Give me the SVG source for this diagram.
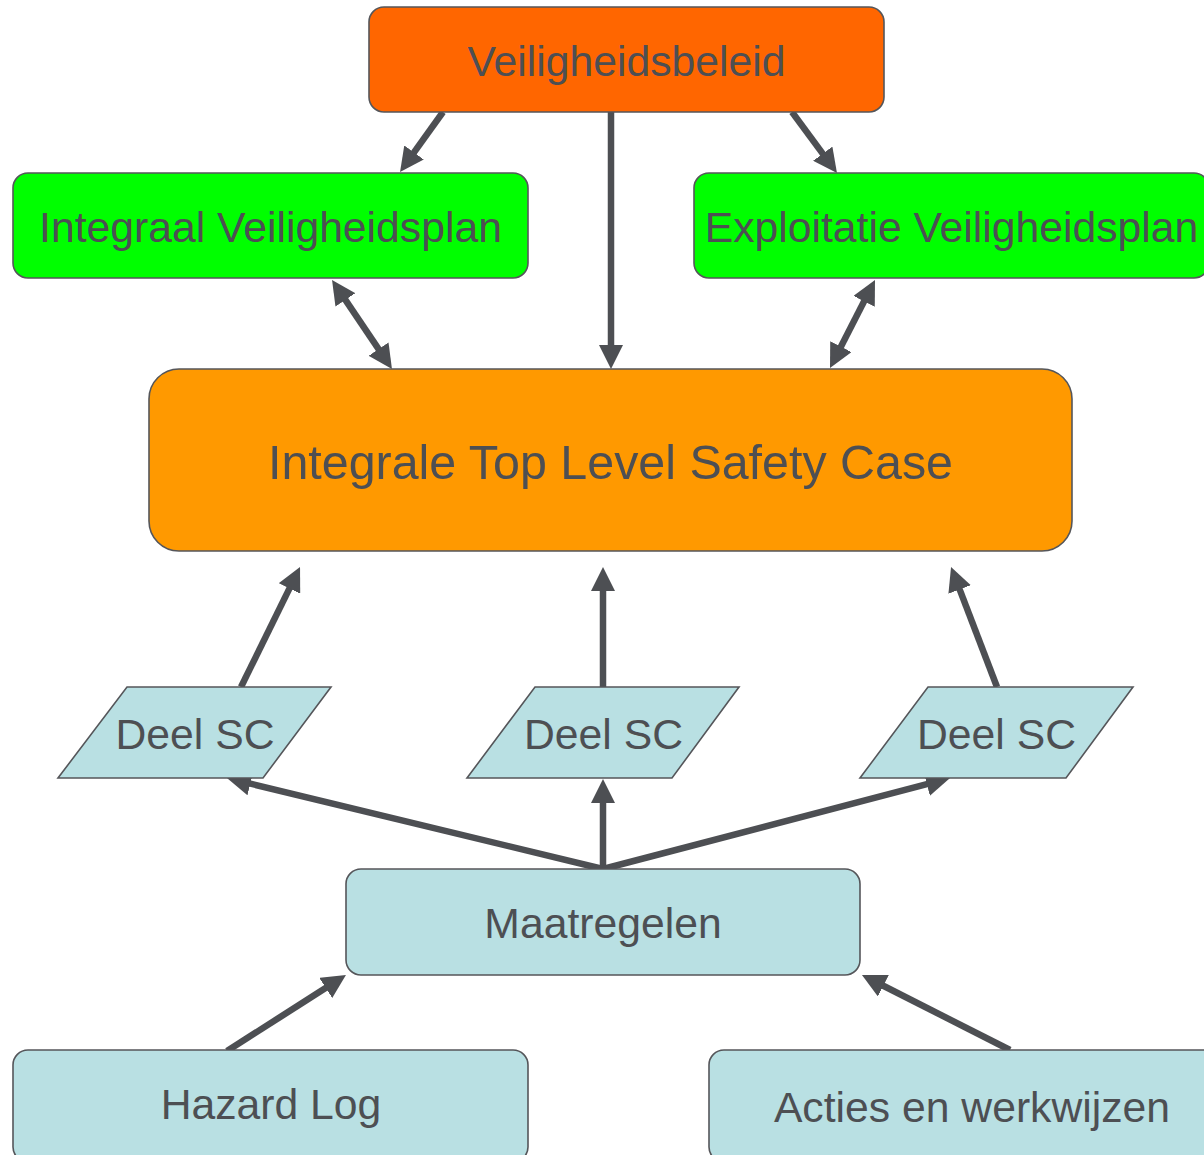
<svg xmlns="http://www.w3.org/2000/svg" width="1204" height="1155" viewBox="0 0 1204 1155">
<defs>
<style>
.box{stroke:#55565a;stroke-width:1.6}
.t{font-family:"Liberation Sans",Arial,sans-serif;font-size:42.7px;fill:#4d4f53;text-anchor:middle}
.big{font-size:48.4px}
.c{stroke:#4d4f53;stroke-width:6.5;fill:none;marker-end:url(#ah)}
.d{marker-start:url(#ah)}
.orange{fill:#ff6600}
.green{fill:#00ff00}
.amber{fill:#ff9900}
.blue{fill:#b9e0e3}
</style>
<marker id="ah" markerUnits="userSpaceOnUse" markerWidth="24" markerHeight="24" refX="4" refY="12" orient="auto-start-reverse" viewBox="0 0 24 24">
<path d="M0,0 L24,12 L0,24 Z" fill="#4d4f53"/>
</marker>
</defs>
<rect width="1204" height="1155" fill="#ffffff"/>
<g id="connectors">
<line class="c" x1="443" y1="112" x2="411.7" y2="155.7"/>
<line class="c" x1="611" y1="112" x2="611" y2="349"/>
<line class="c" x1="792" y1="112" x2="825.1" y2="156.9"/>
<line class="c d" x1="343.2" y1="296.6" x2="380.8" y2="352.4"/>
<line class="c d" x1="865.9" y1="297.8" x2="839.1" y2="350.2"/>
<line class="c" x1="241" y1="687" x2="291.2" y2="584.9"/>
<line class="c" x1="603" y1="687" x2="603" y2="587"/>
<line class="c" x1="997" y1="687" x2="958.2" y2="585.7"/>
<line class="c" x1="603" y1="869" x2="246.4" y2="782.7"/>
<line class="c" x1="603" y1="869" x2="603" y2="799"/>
<line class="c" x1="603" y1="869" x2="930.7" y2="783.1"/>
<line class="c" x1="227" y1="1051" x2="329.1" y2="985.8"/>
<line class="c" x1="1010" y1="1050" x2="879.8" y2="984"/>
</g>
<g id="veiligheidsbeleid">
<rect class="box orange" x="369" y="7" width="515" height="105" rx="15"/>
<text class="t" x="626.5" y="76">Veiligheidsbeleid</text>
</g>
<g id="integraal-veiligheidsplan">
<rect class="box green" x="13" y="173" width="515" height="105" rx="15"/>
<text class="t" x="270.5" y="242">Integraal Veiligheidsplan</text>
</g>
<g id="exploitatie-veiligheidsplan">
<rect class="box green" x="694" y="173" width="515" height="105" rx="15"/>
<text class="t" x="951.5" y="242">Exploitatie Veiligheidsplan</text>
</g>
<g id="top-level-safety-case">
<rect class="box amber" x="149" y="369" width="923" height="182" rx="30"/>
<text class="t big" x="610.5" y="479">Integrale Top Level Safety Case</text>
</g>
<g id="deel-sc-1">
<polygon class="box blue" points="127,687 331,687 263,778 58,778"/>
<text class="t" x="195" y="749">Deel SC</text>
</g>
<g id="deel-sc-2">
<polygon class="box blue" points="535,687 739,687 672,778 467,778"/>
<text class="t" x="603.5" y="749">Deel SC</text>
</g>
<g id="deel-sc-3">
<polygon class="box blue" points="928,687 1133,687 1066,778 860,778"/>
<text class="t" x="996.5" y="749">Deel SC</text>
</g>
<g id="maatregelen">
<rect class="box blue" x="346" y="869" width="514" height="106" rx="15"/>
<text class="t" x="603" y="938">Maatregelen</text>
</g>
<g id="hazard-log">
<rect class="box blue" x="13" y="1050" width="515" height="112" rx="15"/>
<text class="t" x="271" y="1119">Hazard Log</text>
</g>
<g id="acties-en-werkwijzen">
<rect class="box blue" x="709" y="1050" width="515" height="112" rx="15"/>
<text class="t" x="972" y="1122">Acties en werkwijzen</text>
</g>
</svg>
